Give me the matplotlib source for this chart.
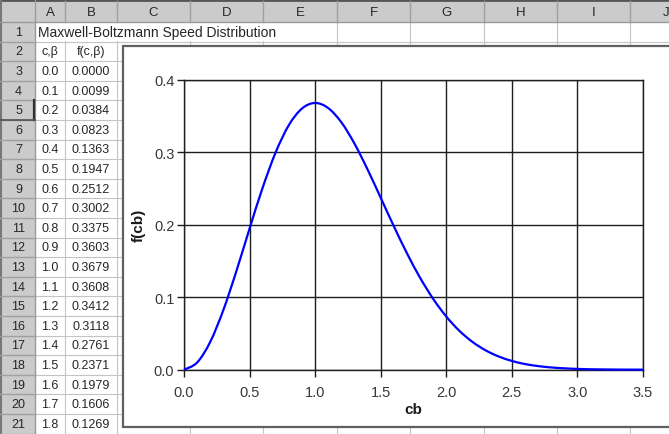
import matplotlib
matplotlib.use("Agg")
import matplotlib.pyplot as plt
from matplotlib.patches import Rectangle, PathPatch
from matplotlib.path import Path

plt.rcParams['font.family'] = ['Liberation Sans', 'DejaVu Sans']

# ---------------- data ----------------
title_text = "Maxwell-Boltzmann Speed Distribution"
col_letters = ["A", "B", "C", "D", "E", "F", "G", "H", "I", "J"]
header_a = "c,β"
header_b = "f(c,β)"
cb = [0.0, 0.1, 0.2, 0.3, 0.4, 0.5, 0.6, 0.7, 0.8, 0.9,
      1.0, 1.1, 1.2, 1.3, 1.4, 1.5, 1.6, 1.7, 1.8, 1.9,
      2.0, 2.1, 2.2, 2.3, 2.4, 2.5, 2.6, 2.7, 2.8, 2.9,
      3.0, 3.1, 3.2, 3.3, 3.4, 3.5]
fcb = [0.0000, 0.0099, 0.0384, 0.0823, 0.1363, 0.1947, 0.2512, 0.3002, 0.3375, 0.3603,
       0.3679, 0.3608, 0.3412, 0.3118, 0.2761, 0.2371, 0.1979, 0.1606, 0.1269, 0.0977,
       0.0733, 0.0536, 0.0383, 0.0267, 0.0182, 0.0121, 0.0078, 0.0050, 0.0031, 0.0019,
       0.0011, 0.0006, 0.0004, 0.0002, 0.0001, 0.0001]
n_table_rows = 19
x_ticks = [0.0, 0.5, 1.0, 1.5, 2.0, 2.5, 3.0, 3.5]
y_ticks = [0.0, 0.1, 0.2, 0.3, 0.4]
x_label = "cb"
y_label = "f(cb)"

# ---------------- layout (pixels) ----------------
W, H = 669, 435
fig = plt.figure(figsize=(W / 100, H / 100), dpi=100)
bg = fig.add_axes([0, 0, 1, 1])
bg.set_xlim(0, W)
bg.set_ylim(H, 0)
bg.axis('off')

HEAD_H = 23
ROW_H = 19.6
col_edges = [0, 35, 65, 117, 190, 263, 337, 410, 484, 557, 630, 703]
hdr_gray = '#cbcbcb'
grid_gray = '#c4c4c4'
txt = '#262626'

def row_top(r):
    return HEAD_H + (r - 1) * ROW_H

# column header band
bg.add_patch(Rectangle((0, 0), W, HEAD_H, facecolor=hdr_gray, edgecolor='none', zorder=1))
# row-number column
bg.add_patch(Rectangle((0, HEAD_H), col_edges[1], H - HEAD_H, facecolor=hdr_gray,
                       edgecolor='none', zorder=1))
bg.plot([0, W], [1, 1], color='#555555', lw=2.0, zorder=3)
bg.plot([1, 1], [0, H], color='#777777', lw=1.5, zorder=3)
bg.plot([0, W], [HEAD_H, HEAD_H], color='#9a9a9a', lw=1.0, zorder=3)
bg.plot([col_edges[1], col_edges[1]], [0, H], color='#9a9a9a', lw=1.0, zorder=3)

# header letters and separators
for i, letter in enumerate(col_letters):
    x0, x1 = col_edges[i + 1], col_edges[i + 2]
    bg.plot([x1, x1], [2, HEAD_H], color='#a0a0a0', lw=1.0, zorder=3)
    bg.text((x0 + x1) / 2, HEAD_H / 2 + 1, letter, ha='center', va='center',
            fontsize=9.5, color=txt, zorder=4)

# row numbers and horizontal gridlines
for r in range(1, 22):
    t = row_top(r)
    bg.plot([0, col_edges[1]], [t + ROW_H, t + ROW_H], color='#a0a0a0', lw=1.0, zorder=3)
    bg.plot([col_edges[1], W], [t + ROW_H, t + ROW_H], color=grid_gray, lw=0.8, zorder=2)
    bg.text(col_edges[1] / 2 + 1, t + ROW_H / 2, str(r), ha='center', va='center',
            fontsize=9, color=txt, zorder=4)

# selected-row marker (row 5)
t5 = row_top(5)
bg.plot([col_edges[1] - 1, col_edges[1] - 1], [t5, t5 + ROW_H], color='#303030', lw=1.6, zorder=3.5)
bg.plot([0, col_edges[1]], [t5 + ROW_H, t5 + ROW_H], color='#505050', lw=1.2, zorder=3.5)

# vertical cell gridlines
for x in col_edges[2:]:
    bg.plot([x, x], [HEAD_H, H], color=grid_gray, lw=0.8, zorder=2)

# row 1 title (clear gridlines behind it)
bg.add_patch(Rectangle((col_edges[1] + 1, row_top(1) + 0.5), 300, ROW_H - 1.5,
                       facecolor='white', edgecolor='none', zorder=2.5))
bg.text(col_edges[1] + 3, row_top(1) + ROW_H / 2, title_text, ha='left', va='center',
        fontsize=10, color=txt, zorder=4)

# row 2 headers
ca = (col_edges[1] + col_edges[2]) / 2
cbx = (col_edges[2] + col_edges[3]) / 2
bg.text(ca, row_top(2) + ROW_H / 2, header_a, ha='center', va='center', fontsize=9,
        color=txt, zorder=4)
bg.text(cbx, row_top(2) + ROW_H / 2, header_b, ha='center', va='center', fontsize=9,
        color=txt, zorder=4)

# table values
for k in range(n_table_rows):
    t = row_top(3 + k)
    bg.text(ca, t + ROW_H / 2, f"{cb[k]:.1f}", ha='center', va='center', fontsize=9,
            color=txt, zorder=4)
    bg.text(cbx, t + ROW_H / 2, f"{fcb[k]:.4f}", ha='center', va='center', fontsize=9,
            color=txt, zorder=4)

# chart area
bg.add_patch(Rectangle((123, 47), 560, 381, facecolor='white', edgecolor='#606060',
                       lw=1.6, zorder=5))

# ---------------- chart ----------------
px_l, px_r, px_t, px_b = 184, 643, 80.7, 370.7
ax = fig.add_axes([px_l / W, (H - px_b) / H, (px_r - px_l) / W, (px_b - px_t) / H])
ax.set_zorder(10)
ax.patch.set_alpha(0)

# smoothed line (Excel-style Catmull-Rom / Bezier through the data points)
pts = list(zip(cb, fcb))
verts = [pts[0]]
codes = [Path.MOVETO]
n = len(pts)
for i in range(n - 1):
    p0 = pts[i - 1] if i > 0 else pts[i]
    p1 = pts[i]
    p2 = pts[i + 1]
    p3 = pts[i + 2] if i + 2 < n else pts[i + 1]
    c1 = (p1[0] + (p2[0] - p0[0]) / 6, p1[1] + (p2[1] - p0[1]) / 6)
    c2 = (p2[0] - (p3[0] - p1[0]) / 6, p2[1] - (p3[1] - p1[1]) / 6)
    verts += [c1, c2, p2]
    codes += [Path.CURVE4] * 3
ax.add_patch(PathPatch(Path(verts, codes), facecolor='none', edgecolor='#0000ff',
                       lw=1.6, zorder=3, clip_on=False))

ax.set_xlim(0, 3.5)
ax.set_ylim(0, 0.4)
ax.set_xticks(x_ticks)
ax.set_yticks(y_ticks)
ax.set_xticklabels([f"{v:.1f}" for v in x_ticks])
ax.set_yticklabels([f"{v:.1f}" for v in y_ticks])
ax.grid(True, color='#1e1e1e', lw=1.0)
ax.set_axisbelow(True)
for s in ax.spines.values():
    s.set_color('#1e1e1e')
    s.set_linewidth(1.0)
ax.tick_params(axis='both', direction='out', length=5, width=1.0, color='#1e1e1e',
               labelsize=10.5, labelcolor='#383838')
ax.tick_params(axis='y', pad=2)
ax.tick_params(axis='x', pad=6)
ax.set_xlabel(x_label, fontsize=11, fontweight='bold', color='#1a1a1a', labelpad=2)
ax.set_ylabel(y_label, fontsize=11, fontweight='bold', color='#1a1a1a', labelpad=6)

fig.savefig("out.png", dpi=100)
